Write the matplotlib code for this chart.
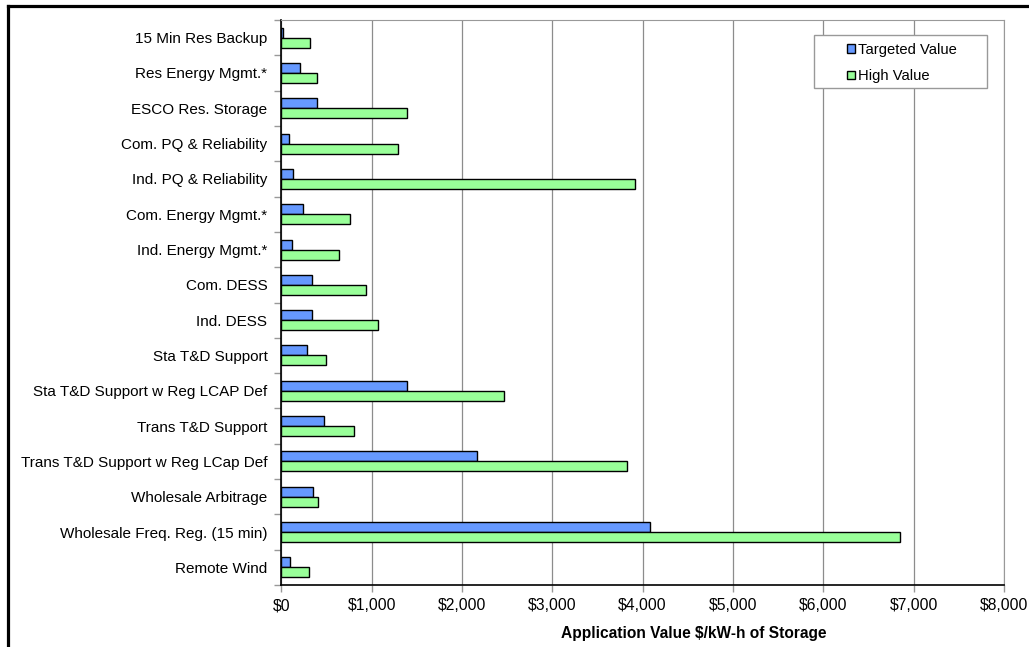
import numpy as np
import matplotlib
matplotlib.use('Agg')
import matplotlib.pyplot as plt
from matplotlib.patches import Patch, Rectangle
from matplotlib.lines import Line2D
from matplotlib.ticker import FuncFormatter

plt.rcParams['font.family'] = ['Liberation Sans', 'DejaVu Sans']

# Data (top to bottom as shown)
categories = ['15 Min Res Backup', 'Res Energy Mgmt.*', 'ESCO Res. Storage',
              'Com. PQ & Reliability', 'Ind. PQ & Reliability', 'Com. Energy Mgmt.*',
              'Ind. Energy Mgmt.*', 'Com. DESS', 'Ind. DESS', 'Sta T&D Support',
              'Sta T&D Support w Reg LCAP Def', 'Trans T&D Support',
              'Trans T&D Support w Reg LCap Def', 'Wholesale Arbitrage',
              'Wholesale Freq. Reg. (15 min)', 'Remote Wind']
targeted = [20, 205, 400, 80, 135, 235, 120, 345, 345, 290, 1390, 470, 2170, 355, 4085, 95]
high = [320, 390, 1390, 1295, 3915, 760, 640, 940, 1070, 490, 2465, 810, 3825, 410, 6845, 310]
xticks = [0, 1000, 2000, 3000, 4000, 5000, 6000, 7000, 8000]

W, H = 1029, 647
fig = plt.figure(figsize=(W / 100, H / 100), dpi=100)
ax = fig.add_axes([281.3 / W, 1 - 585 / H, (1004 - 281.3) / W, (585 - 20) / H])

y = np.arange(len(categories))
h = 0.283
ax.barh(y - h / 2, targeted, height=h, color='#6699ff', edgecolor='black', linewidth=1, zorder=3)
ax.barh(y + h / 2, high, height=h, color='#99ff99', edgecolor='black', linewidth=1, zorder=3)

ax.set_xlim(0, 8000)
ax.set_ylim(len(categories) - 0.5, -0.5)
ax.set_xticks(xticks)
ax.xaxis.set_major_formatter(FuncFormatter(lambda v, p: '${:,.0f}'.format(v)))
ax.set_yticks(y)
ax.set_yticklabels(categories)
ax.set_yticks(np.arange(-0.5, len(categories), 1), minor=True)

ax.tick_params(axis='y', which='major', length=0, pad=10, labelsize=11)
ax.tick_params(axis='y', which='minor', length=5, color='#999999', width=1)
ax.tick_params(axis='x', length=5, color='#999999', width=1, pad=4.5, labelsize=11.3)

ax.grid(axis='x', color='#8c8c8c', linewidth=0.9, zorder=0)
ax.set_axisbelow(True)

for s in ['top', 'right']:
    ax.spines[s].set_color('#999999')
for s in ['left', 'bottom']:
    ax.spines[s].set_color('black')
    ax.spines[s].set_linewidth(1.2)

ax.set_xlabel('Application Value $/kW-h of Storage', fontsize=11.2, fontweight='bold')
ax.xaxis.set_label_coords((694 - 281.3) / (1004 - 281.3), -41 / 565)

# legend box
fig.add_artist(Rectangle((814 / W, 1 - 88 / H), (987 - 814) / W, (88 - 35) / H,
                         transform=fig.transFigure, facecolor='white',
                         edgecolor='#999999', linewidth=1, zorder=5))
handles = [Patch(facecolor='#6699ff', edgecolor='black', label='Targeted Value'),
           Patch(facecolor='#99ff99', edgecolor='black', label='High Value')]
leg = fig.legend(handles=handles, loc='upper left', bbox_to_anchor=(837 / W, 1 - 32.5 / H),
                 frameon=False, fontsize=10.6, handlelength=0.5, handleheight=0.5,
                 handletextpad=0.2, labelspacing=0.85, borderpad=0.2)
leg.set_zorder(6)

# outer black frame (top and left visible)
fig.add_artist(Line2D([7.5 / W, 1.0], [1 - 5.5 / H, 1 - 5.5 / H], color='black', linewidth=2.3,
                      transform=fig.transFigure))
fig.add_artist(Line2D([7.5 / W, 7.5 / W], [0, 1 - 5.5 / H], color='black', linewidth=2.3,
                      transform=fig.transFigure))

fig.savefig('out.png', dpi=100)
